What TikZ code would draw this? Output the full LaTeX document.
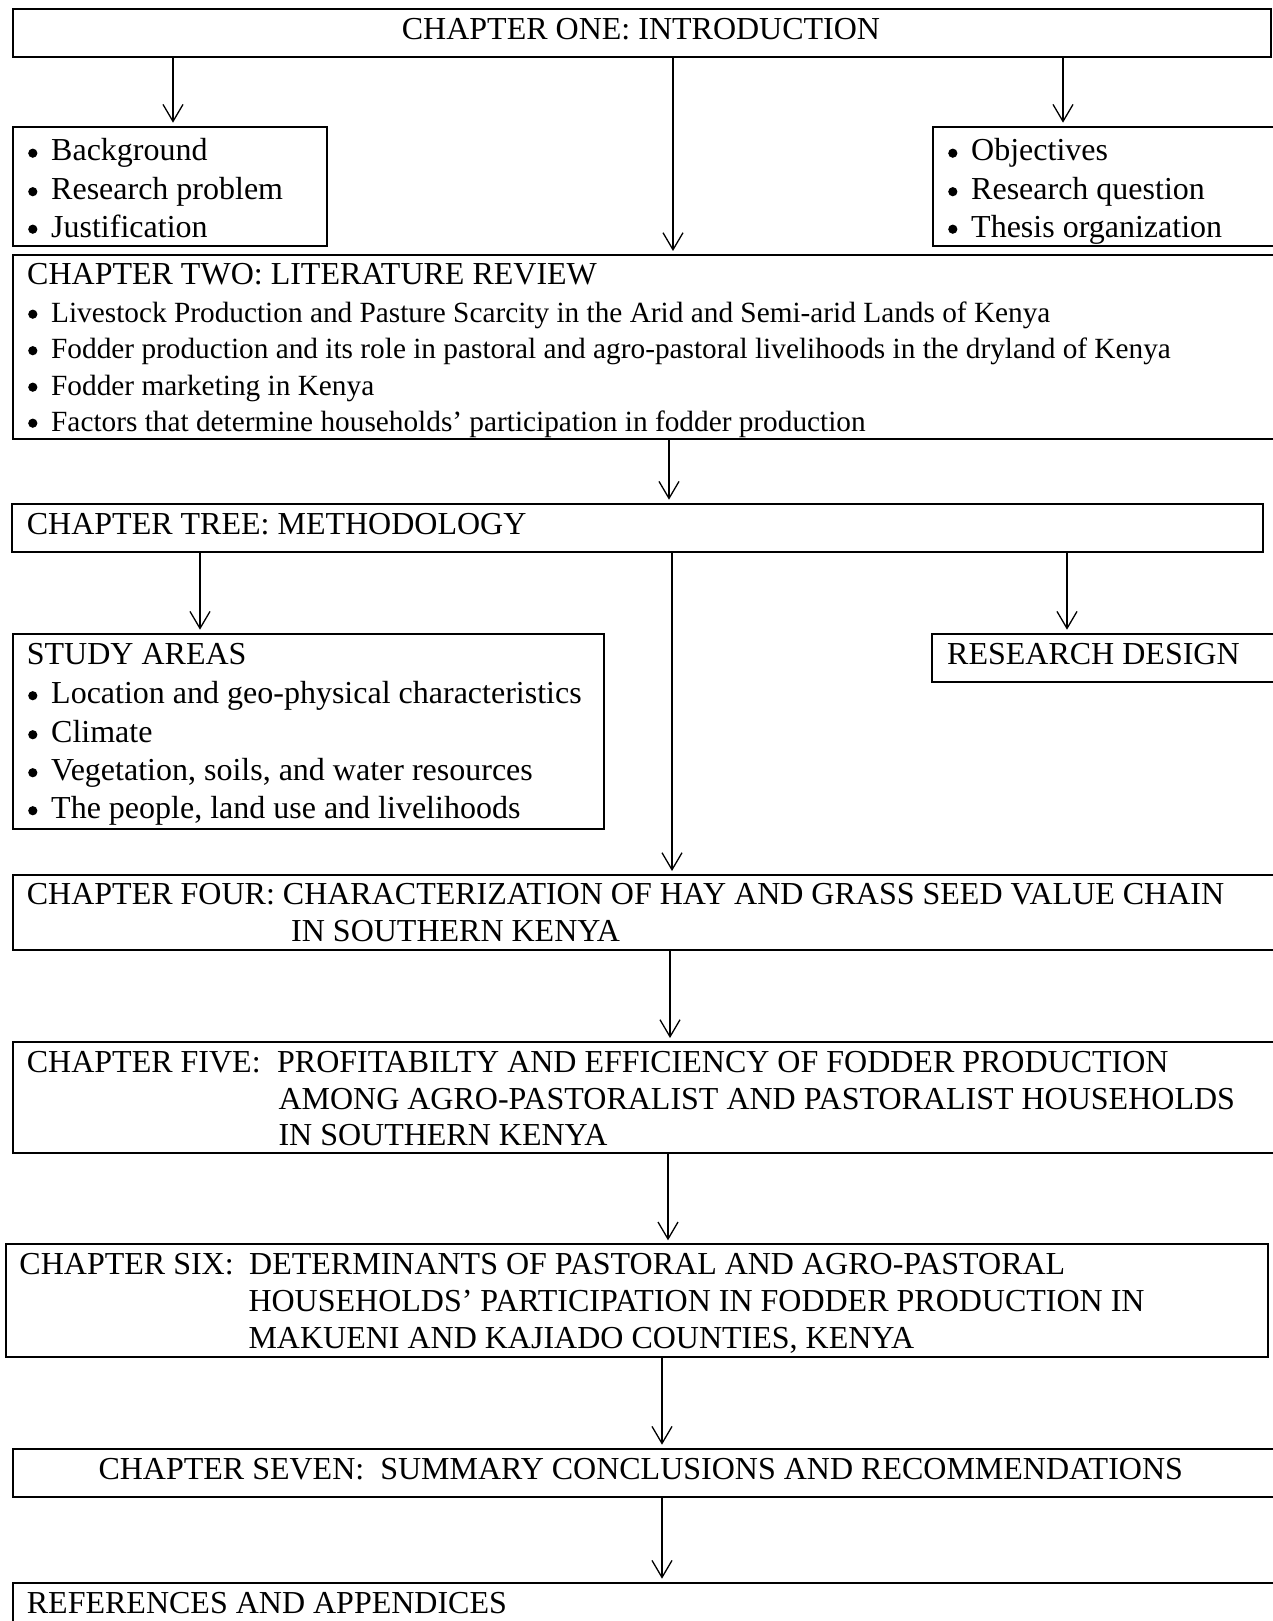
\documentclass[tikz,border=0pt]{standalone}
\usepackage{fontspec}
\setmainfont{Liberation Serif}
\usetikzlibrary{arrows.meta}
\newcommand{\bl}{\makebox[23pt][l]{\tikz[baseline=0pt]\fill (4.6pt,7.8pt) circle (4.6pt);}}
\begin{document}
\begin{tikzpicture}[x=1pt,y=-1pt,
  box/.style={draw, line width=2pt, inner sep=0pt, anchor=north west},
  txt/.style={anchor=base west, inner sep=0pt, font=\fontsize{32}{37}\selectfont},
  stxt/.style={anchor=base west, inner sep=0pt, font=\fontsize{29.3}{34}\selectfont},
  ctxt/.style={anchor=base, inner sep=0pt, font=\fontsize{32}{37}\selectfont},
  arr/.style={line width=1.3pt, shorten >=3pt, -{Straight Barb[length=17pt,width=20pt,line width=1.3pt]}}]
\clip (0,0) rectangle (1273,1621);
\fill[white] (0,0) rectangle (1273,1621);

% boxes
\node[box, minimum width=1258.3pt, minimum height=47.7pt] (ch1) at (11.7,8) {};
\node[box, minimum width=314.3pt, minimum height=119.3pt] (bg) at (11.7,125.7) {};
\node[box, minimum width=360pt, minimum height=119.3pt] (obj) at (932,125.7) {};
\node[box, minimum width=1290pt, minimum height=183.7pt] (ch2) at (11.7,254) {};
\node[box, minimum width=1251.3pt, minimum height=48pt] (ch3) at (10.7,502.7) {};
\node[box, minimum width=591.3pt, minimum height=195pt] (study) at (11.7,632.7) {};
\node[box, minimum width=360pt, minimum height=48.3pt] (rd) at (931,632.7) {};
\node[box, minimum width=1290pt, minimum height=75pt] (ch4) at (11.7,874) {};
\node[box, minimum width=1290pt, minimum height=110.7pt] (ch5) at (11.7,1041) {};
\node[box, minimum width=1262.3pt, minimum height=112.4pt] (ch6) at (4.7,1243.3) {};
\node[box, minimum width=1290pt, minimum height=48.3pt] (ch7) at (11.7,1447.7) {};
\node[box, minimum width=1290pt, minimum height=80pt] (refs) at (11.7,1581.7) {};

% texts
\node[ctxt] (ch1t) at (641,40) {CHAPTER ONE: INTRODUCTION};

\node[txt] (bg1) at (28,161) {\bl Background};
\node[txt] (bg2) at (28,199.5) {\bl Research problem};
\node[txt] (bg3) at (28,237) {\bl Justification};

\node[txt] (ob1) at (948,161) {\bl Objectives};
\node[txt] (ob2) at (948,199.5) {\bl Research question};
\node[txt] (ob3) at (948,237) {\bl Thesis organization};

\node[txt] (ch2t) at (27,284.5) {CHAPTER TWO: LITERATURE REVIEW};
\node[stxt] (ch2a) at (28,322) {\bl Livestock Production and Pasture Scarcity in the Arid and Semi-arid Lands of Kenya};
\node[stxt] (ch2b) at (28,358.5) {\bl Fodder production and its role in pastoral and agro-pastoral livelihoods in the dryland of Kenya};
\node[stxt] (ch2c) at (28,395) {\bl Fodder marketing in Kenya};
\node[stxt] (ch2d) at (28,431) {\bl Factors that determine households’ participation in fodder production};

\node[txt] (ch3t) at (26.7,534.5) {CHAPTER TREE: METHODOLOGY};

\node[txt] (st0) at (26.7,664.5) {STUDY AREAS};
\node[txt] (st1) at (28,703.5) {\bl Location and geo-physical characteristics};
\node[txt] (st2) at (28,742.5) {\bl Climate};
\node[txt] (st3) at (28,780.5) {\bl Vegetation, soils, and water resources};
\node[txt] (st4) at (28,818.5) {\bl The people, land use and livelihoods};

\node[txt] (rdt) at (947,664.5) {RESEARCH DESIGN};

\node[txt] (ch4a) at (26.7,904) {CHAPTER FOUR: CHARACTERIZATION OF HAY AND GRASS SEED VALUE CHAIN};
\node[txt] (ch4b) at (291,941.5) {IN SOUTHERN KENYA};

\node[txt] (ch5h) at (26.7,1072.5) {CHAPTER FIVE:};
\node[txt] (ch5a) at (277,1072.5) {PROFITABILTY AND EFFICIENCY OF FODDER PRODUCTION};
\node[txt] (ch5b) at (278.3,1109) {AMONG AGRO-PASTORALIST AND PASTORALIST HOUSEHOLDS};
\node[txt] (ch5c) at (278.3,1145.3) {IN SOUTHERN KENYA};

\node[txt] (ch6h) at (19.3,1274.5) {CHAPTER SIX:};
\node[txt] (ch6a) at (249,1274.5) {DETERMINANTS OF PASTORAL AND AGRO-PASTORAL};
\node[txt] (ch6b) at (248.3,1311.5) {HOUSEHOLDS’ PARTICIPATION IN FODDER PRODUCTION IN};
\node[txt] (ch6c) at (248.3,1348) {MAKUENI AND KAJIADO COUNTIES, KENYA};

\node[txt] (ch7t) at (98.3,1479.5) {CHAPTER SEVEN:\ \ SUMMARY CONCLUSIONS AND RECOMMENDATIONS};

\node[txt] (refst) at (26.7,1613) {REFERENCES AND APPENDICES};

% connectors
\draw[arr] (ch1.south -| 173,0) -- (bg.north -| 173,0);
\draw[arr] (ch1.south -| 673,0) -- (ch2.north -| 673,0);
\draw[arr] (ch1.south -| 1063,0) -- (obj.north -| 1063,0);
\draw[arr] (ch2.south -| 669,0) -- (ch3.north -| 669,0);
\draw[arr] (ch3.south -| 200,0) -- (study.north -| 200,0);
\draw[arr] (ch3.south -| 672,0) -- (ch4.north -| 672,0);
\draw[arr] (ch3.south -| 1067,0) -- (rd.north -| 1067,0);
\draw[arr] (ch4.south -| 670,0) -- (ch5.north -| 670,0);
\draw[arr] (ch5.south -| 668,0) -- (ch6.north -| 668,0);
\draw[arr] (ch6.south -| 662,0) -- (ch7.north -| 662,0);
\draw[arr] (ch7.south -| 662,0) -- (refs.north -| 662,0);
\end{tikzpicture}
\end{document}
